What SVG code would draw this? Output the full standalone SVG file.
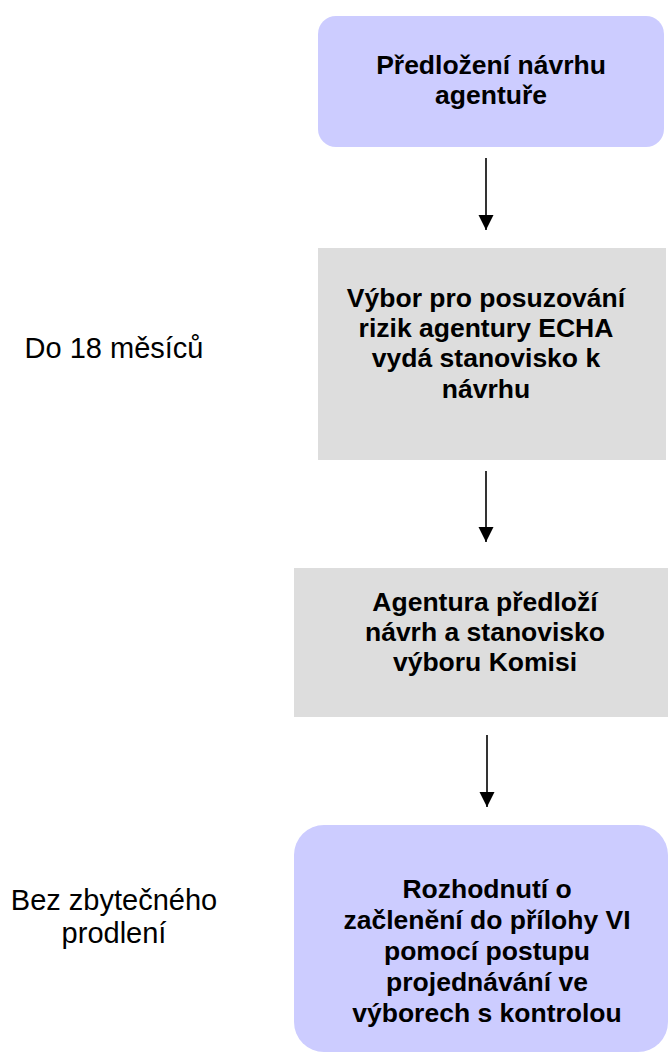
<svg xmlns="http://www.w3.org/2000/svg" width="670" height="1055" viewBox="0 0 670 1055">
  <style>
    .step { font-family: "Liberation Sans", Arial, sans-serif; font-size: 26.5px; font-weight: bold; fill: #000; text-anchor: middle; }
    .note { font-family: "Liberation Sans", Arial, sans-serif; font-size: 29px; fill: #000; text-anchor: middle; }
    .blue { fill: #ccccff; }
    .grey { fill: #dddddd; }
    .link { stroke: #000; stroke-width: 1.6; fill: none; marker-end: url(#head); }
  </style>
  <defs>
    <marker id="head" viewBox="0 0 10 10" refX="10" refY="5" markerWidth="9.5" markerHeight="9.5" markerUnits="strokeWidth" orient="auto">
      <path d="M0,0 L10,5 L0,10 Z" fill="#000"/>
    </marker>
  </defs>

  <rect width="670" height="1055" fill="#ffffff"/>

  <!-- side notes -->
  <g id="note-18-months">
    <text class="note" x="114" y="358">Do 18 měsíců</text>
  </g>
  <g id="note-no-delay">
    <text class="note" x="114" y="910">Bez zbytečného</text>
    <text class="note" x="114" y="943">prodlení</text>
  </g>

  <!-- process steps -->
  <g id="step-submission">
    <rect class="blue" x="318" y="16" width="346" height="131" rx="18" ry="18"/>
    <text class="step" x="491" y="74">Předložení návrhu</text>
    <text class="step" x="491" y="104">agentuře</text>
  </g>

  <g id="step-rac-opinion">
    <rect class="grey" x="318" y="248" width="348" height="212"/>
    <text class="step" x="486" y="307">Výbor pro posuzování</text>
    <text class="step" x="486" y="337">rizik agentury ECHA</text>
    <text class="step" x="486" y="367">vydá stanovisko k</text>
    <text class="step" x="486" y="398">návrhu</text>
  </g>

  <g id="step-forward">
    <rect class="grey" x="294" y="568" width="374" height="149"/>
    <text class="step" x="485" y="611">Agentura předloží</text>
    <text class="step" x="485" y="641">návrh a stanovisko</text>
    <text class="step" x="485" y="671">výboru Komisi</text>
  </g>

  <g id="step-decision">
    <rect class="blue" x="294" y="825" width="374" height="227" rx="30" ry="30"/>
    <text class="step" x="487" y="898">Rozhodnutí o</text>
    <text class="step" x="487" y="929">začlenění do přílohy VI</text>
    <text class="step" x="487" y="960">pomocí postupu</text>
    <text class="step" x="487" y="991">projednávání ve</text>
    <text class="step" x="487" y="1022">výborech s kontrolou</text>
  </g>

  <!-- connectors -->
  <g id="connectors">
    <line class="link" x1="486" y1="158" x2="486" y2="230"/>
    <line class="link" x1="486" y1="471" x2="486" y2="542"/>
    <line class="link" x1="487" y1="735" x2="487" y2="807"/>
  </g>
</svg>
